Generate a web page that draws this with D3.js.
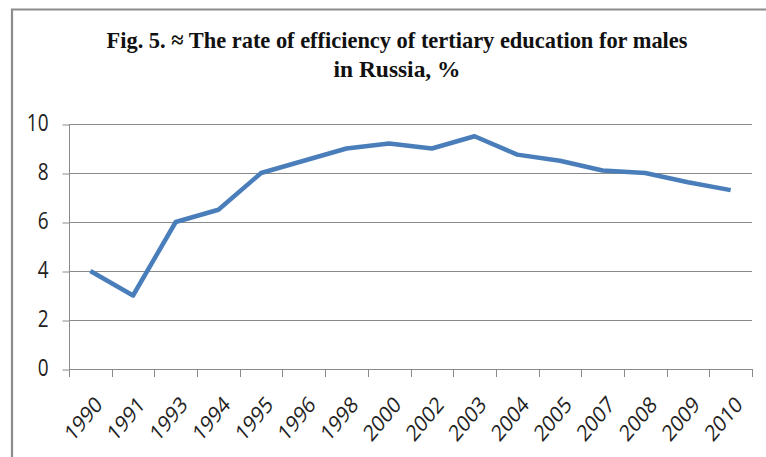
<!DOCTYPE html>
<html>
<head>
<meta charset="utf-8">
<script src="https://cdn.jsdelivr.net/npm/d3@7"></script>
<style>
  body { margin: 0; background: #fff; }
  svg { display: block; }
</style>
</head>
<body>
<div id="chart"></div>
<script>
// values
var years = ["1990", "1991", "1993", "1994", "1995", "1996", "1998", "2000",
             "2002", "2003", "2004", "2005", "2007", "2008", "2009", "2010"];
var rate = [4.0, 3.0, 6.0, 6.5, 8.0, 8.5, 9.0, 9.2,
            9.0, 9.5, 8.75, 8.5, 8.1, 8.0, 7.62, 7.3];
var yTicks = [0, 2, 4, 6, 8, 10];
var titleLines = ["Fig. 5. \u2248 The rate of efficiency of tertiary education for males",
                  "in Russia, %"];

var W = 766, H = 457;
var svg = d3.select("#chart").append("svg")
  .attr("width", W).attr("height", H);

// the whole figure looks stretched a bit vertically
var stretch = 1.2;

// outer frame (runs off the right and bottom edge)
svg.append("path")
  .attr("d", "M12,480 L12,9.5 L800,9.5")
  .attr("fill", "none")
  .attr("stroke", "#8c8c8c")
  .attr("stroke-width", 2.2);

// title
var titleW = [581, 127];
svg.selectAll("text.title")
  .data(titleLines)
  .enter()
  .append("text")
    .attr("class", "title")
    .attr("transform", function (d, i) {
      return "translate(397," + (48 + i * 29) + ") scale(1," + stretch + ")";
    })
    .attr("text-anchor", "middle")
    .attr("textLength", function (d, i) { return titleW[i]; })
    .attr("lengthAdjust", "spacingAndGlyphs")
    .style("font-family", "'Liberation Serif', serif")
    .style("font-weight", "bold")
    .style("font-size", "20px")
    .style("fill", "#111")
    .text(function (d) { return d; });

var mLeft = 69, mRight = 752, mTop = 124, mBottom = 369;

var x = d3.scaleBand().domain(years).range([mLeft, mRight]);
var y = d3.scaleLinear().domain([0, 10]).range([mBottom, mTop]);

// gridlines
svg.append("g")
  .selectAll("line")
  .data(yTicks.filter(function (d) { return d > 0; }))
  .enter()
  .append("line")
    .attr("x1", mLeft).attr("x2", mRight)
    .attr("y1", function (d) { return Math.round(y(d)) + 0.5; })
    .attr("y2", function (d) { return Math.round(y(d)) + 0.5; })
    .attr("stroke", "#8a8a8a")
    .attr("stroke-width", 1.2);

// y axis
var yAxis = svg.append("g")
  .attr("transform", "translate(" + (mLeft + 0.5) + ",0.5)")
  .call(d3.axisLeft(y).tickValues(yTicks).tickSize(7));
yAxis.select(".domain").attr("stroke", "#8a8a8a").attr("d", "M0," + mTop + "V" + mBottom);
yAxis.selectAll(".tick line").attr("stroke", "#8a8a8a");
yAxis.selectAll(".tick text")
  .attr("x", null).attr("dy", null)
  .attr("transform", "translate(-21,6) scale(1," + stretch + ")")
  .style("font-family", "'Open Sans', 'DejaVu Sans', sans-serif")
  .style("font-size", "19px")
  .style("fill", "#222");

// x axis: ticks at the category edges
var edges = years.map(function (d) { return x(d); }).concat([mRight]);
var xg = svg.append("g");
xg.append("line")
  .attr("x1", mLeft).attr("x2", mRight)
  .attr("y1", mBottom + 0.5).attr("y2", mBottom + 0.5)
  .attr("stroke", "#8a8a8a").attr("stroke-width", 1.2);
xg.selectAll("line.tk")
  .data(edges)
  .enter()
  .append("line")
    .attr("class", "tk")
    .attr("x1", function (d) { return Math.round(d) + 0.5; })
    .attr("x2", function (d) { return Math.round(d) + 0.5; })
    .attr("y1", mBottom).attr("y2", mBottom + 8)
    .attr("stroke", "#8a8a8a");
xg.selectAll("text")
  .data(years)
  .enter()
  .append("text")
    .attr("transform", function (d) {
      return "translate(" + (x(d) + x.bandwidth() / 2 + 13) + "," + (mBottom + 37) +
        ") scale(1," + stretch + ") rotate(-45)";
    })
    .attr("text-anchor", "end")
    .style("font-family", "'Open Sans', 'DejaVu Sans', sans-serif")
    .style("font-size", "19px")
    .style("fill", "#222")
    .text(function (d) { return d; });

// the series
var line = d3.line()
  .x(function (d, i) { return x(years[i]) + x.bandwidth() / 2; })
  .y(function (d) { return y(d); });

svg.append("path")
  .datum(rate)
  .attr("d", line)
  .attr("fill", "none")
  .attr("stroke", "#4a7ebb")
  .attr("stroke-width", 4.5)
  .attr("stroke-linejoin", "round")
  .attr("stroke-linecap", "butt");
</script>
</body>
</html>
